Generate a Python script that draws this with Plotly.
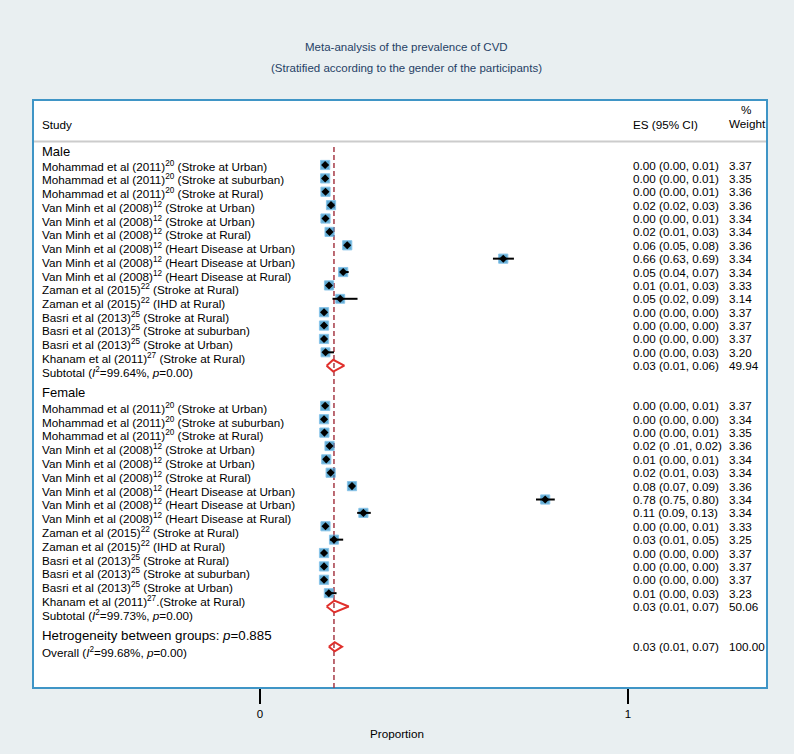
import plotly.graph_objects as go

# ---------------- data ----------------
male_labels = [
    "Mohammad et al (2011)<sup>20</sup> (Stroke at Urban)",
    "Mohammad et al (2011)<sup>20</sup> (Stroke at suburban)",
    "Mohammad et al (2011)<sup>20</sup> (Stroke at Rural)",
    "Van Minh et al (2008)<sup>12</sup> (Stroke at Urban)",
    "Van Minh et al (2008)<sup>12</sup> (Stroke at Urban)",
    "Van Minh et al (2008)<sup>12</sup> (Stroke at Rural)",
    "Van Minh et al (2008)<sup>12</sup> (Heart Disease at Urban)",
    "Van Minh et al (2008)<sup>12</sup> (Heart Disease at Urban)",
    "Van Minh et al (2008)<sup>12</sup> (Heart Disease at Rural)",
    "Zaman et al (2015)<sup>22</sup> (Stroke at Rural)",
    "Zaman et al (2015)<sup>22</sup> (IHD at Rural)",
    "Basri et al (2013)<sup>25</sup> (Stroke at Rural)",
    "Basri et al (2013)<sup>25</sup> (Stroke at suburban)",
    "Basri et al (2013)<sup>25</sup> (Stroke at Urban)",
    "Khanam et al (2011)<sup>27</sup> (Stroke at Rural)",
]
male_es = ["0.00 (0.00, 0.01)", "0.00 (0.00, 0.01)", "0.00 (0.00, 0.01)", "0.02 (0.02, 0.03)",
           "0.00 (0.00, 0.01)", "0.02 (0.01, 0.03)", "0.06 (0.05, 0.08)", "0.66 (0.63, 0.69)",
           "0.05 (0.04, 0.07)", "0.01 (0.01, 0.03)", "0.05 (0.02, 0.09)", "0.00 (0.00, 0.00)",
           "0.00 (0.00, 0.00)", "0.00 (0.00, 0.00)", "0.00 (0.00, 0.03)"]
male_weight = [3.37, 3.35, 3.36, 3.36, 3.34, 3.34, 3.36, 3.34, 3.34, 3.33, 3.14, 3.37, 3.37, 3.37, 3.20]
# marker positions / CI ends as read on the plotted Proportion axis
male_pos = [0.177, 0.177, 0.178, 0.193, 0.178, 0.189, 0.237, 0.661, 0.226, 0.1875, 0.218, 0.174, 0.174, 0.174, 0.178]
male_lo = [0.176, 0.176, 0.176, 0.190, 0.176, 0.186, 0.232, 0.633, 0.220, 0.186, 0.197, 0.174, 0.174, 0.174, 0.176]
male_hi = [0.180, 0.180, 0.181, 0.197, 0.181, 0.194, 0.243, 0.690, 0.241, 0.193, 0.265, 0.174, 0.174, 0.174, 0.201]

female_labels = [
    "Mohammad et al (2011)<sup>20</sup> (Stroke at Urban)",
    "Mohammad et al (2011)<sup>20</sup> (Stroke at suburban)",
    "Mohammad et al (2011)<sup>20</sup> (Stroke at Rural)",
    "Van Minh et al (2008)<sup>12</sup> (Stroke at Urban)",
    "Van Minh et al (2008)<sup>12</sup> (Stroke at Urban)",
    "Van Minh et al (2008)<sup>12</sup> (Stroke at Rural)",
    "Van Minh et al (2008)<sup>12</sup> (Heart Disease at Urban)",
    "Van Minh et al (2008)<sup>12</sup> (Heart Disease at Urban)",
    "Van Minh et al (2008)<sup>12</sup> (Heart Disease at Rural)",
    "Zaman et al (2015)<sup>22</sup> (Stroke at Rural)",
    "Zaman et al (2015)<sup>22</sup> (IHD at Rural)",
    "Basri et al (2013)<sup>25</sup> (Stroke at Rural)",
    "Basri et al (2013)<sup>25</sup> (Stroke at suburban)",
    "Basri et al (2013)<sup>25</sup> (Stroke at Urban)",
    "Khanam et al (2011)<sup>27</sup>.(Stroke at Rural)",
]
female_es = ["0.00 (0.00, 0.01)", "0.00 (0.00, 0.00)", "0.00 (0.00, 0.01)", "0.02 (0 .01, 0.02)",
             "0.01 (0.00, 0.01)", "0.02 (0.01, 0.03)", "0.08 (0.07, 0.09)", "0.78 (0.75, 0.80)",
             "0.11 (0.09, 0.13)", "0.00 (0.00, 0.01)", "0.03 (0.01, 0.05)", "0.00 (0.00, 0.00)",
             "0.00 (0.00, 0.00)", "0.00 (0.00, 0.00)", "0.01 (0.00, 0.03)"]
female_weight = [3.37, 3.34, 3.35, 3.36, 3.34, 3.34, 3.36, 3.34, 3.34, 3.33, 3.25, 3.37, 3.37, 3.37, 3.23]
female_pos = [0.177, 0.174, 0.175, 0.189, 0.180, 0.192, 0.250, 0.775, 0.281, 0.178, 0.201, 0.174, 0.174, 0.174, 0.187]
female_lo = [0.176, 0.174, 0.174, 0.187, 0.178, 0.189, 0.246, 0.750, 0.264, 0.177, 0.190, 0.174, 0.174, 0.174, 0.178]
female_hi = [0.180, 0.174, 0.177, 0.191, 0.182, 0.195, 0.254, 0.801, 0.301, 0.180, 0.226, 0.174, 0.174, 0.174, 0.208]

subtotal_labels = ["Subtotal (<i>I</i><sup>2</sup>=99.64%, <i>p</i>=0.00)",
                   "Subtotal (<i>I</i><sup>2</sup>=99.73%, <i>p</i>=0.00)"]
subtotal_es = ["0.03 (0.01, 0.06)", "0.03 (0.01, 0.07)"]
subtotal_weight = ["49.94", "50.06"]
subtotal_lo = [0.181, 0.181]
subtotal_mid = [0.199, 0.202]
subtotal_hi = [0.229, 0.241]

overall_label = "Overall (<i>I</i><sup>2</sup>=99.68%, <i>p</i>=0.00)"
overall_es = "0.03 (0.01, 0.07)"
overall_weight = "100.00"
overall_lo, overall_mid, overall_hi = 0.187, 0.203, 0.223
overall_line = 0.201

group_names = ["Male", "Female"]
het_label = "Hetrogeneity between groups: <i>p</i>=0.885"
tick_vals = [0, 1]
tick_text = ["0", "1"]

# ---------------- layout helpers ----------------
W, H = 794, 754
ROW0, ROWH = 165.0, 13.38
PLOT_BOTTOM = 688
X0PX, UNIT = 260.0, 368.0
FONT = "Liberation Sans, Arial, sans-serif"
FS = 11.7
BG = "#e9eff1"
BOX = "#3f95c6"
SQ = "#1e87c0"
RED = "#e0302c"

def py(px):
    return (H - px) / H

def px_row(px):
    return (px - ROW0) / ROWH

fig = go.Figure()

rows_m = list(range(0, 15))
rows_f = list(range(18, 33))
sub_rows = [15, 33]
overall_row = 36

all_pos = male_pos + female_pos
all_lo = male_lo + female_lo
all_hi = male_hi + female_hi
all_w = male_weight + female_weight
all_rows = rows_m + rows_f

# weight boxes
fig.add_trace(go.Scatter(
    x=all_pos, y=all_rows, mode="markers",
    marker=dict(symbol="square", size=[9.2 * (w / 3.37) ** 0.5 for w in all_w],
                color=SQ, line=dict(color="#58ace0", width=1)),
    hoverinfo="skip", showlegend=False))
# confidence intervals
cx, cy = [], []
for lo, hi, r in zip(all_lo, all_hi, all_rows):
    cx += [lo, hi, None]
    cy += [r, r, None]
fig.add_trace(go.Scatter(x=cx, y=cy, mode="lines", line=dict(color="black", width=2),
                         hoverinfo="skip", showlegend=False))
# point estimates
fig.add_trace(go.Scatter(
    x=all_pos, y=all_rows, mode="markers",
    marker=dict(symbol="diamond", size=6.2, color="black"),
    hoverinfo="skip", showlegend=False))

# pooled diamonds
def diamond(lo, mid, hi, r, h):
    fig.add_trace(go.Scatter(x=[lo, mid, hi, mid, lo], y=[r, r - h, r, r + h, r],
                             mode="lines", line=dict(color=RED, width=2),
                             hoverinfo="skip", showlegend=False))

for lo, mid, hi, r in zip(subtotal_lo, subtotal_mid, subtotal_hi, sub_rows):
    diamond(lo, mid, hi, r, 0.44)
diamond(overall_lo, overall_mid, overall_hi, overall_row, 0.34)

ann = []
def txt(x, y, s, size=FS, anchor="left", yref="y", color="black"):
    ann.append(dict(x=x, y=y, xref="paper", yref=yref, text=s, showarrow=False,
                    xanchor=anchor, yanchor="middle",
                    font=dict(family=FONT, size=size, color=color)))

LX = 40 / W
ESX = 631 / W
WX = 727 / W

# headers
txt(LX, py(125), "Study", yref="paper")
txt(ESX, py(125), "ES (95% CI)", yref="paper")
txt(746 / W, py(109), "%", anchor="center", yref="paper")
txt(WX, py(124), "Weight", yref="paper")

# left column (text lines are slightly more spaced than the marker rows)
text_start = [px_row(165.7), px_row(407.7)]
text_step = [13.73 / ROWH, 13.8 / ROWH]
header_rows = [-1, 17]
for g, (labels, es, wts, rows) in enumerate([(male_labels, male_es, male_weight, rows_m),
                                              (female_labels, female_es, female_weight, rows_f)]):
    txt(LX, header_rows[g], group_names[g], size=13)
    for k, lab in enumerate(labels):
        txt(LX, text_start[g] + k * text_step[g], lab)
    txt(LX, text_start[g] + 15 * text_step[g], subtotal_labels[g])
    for e, w, r in zip(es, wts, rows):
        txt(ESX, r, e)
        txt(WX, r, f"{w:.2f}")
    txt(ESX, sub_rows[g], subtotal_es[g])
    txt(WX, sub_rows[g], subtotal_weight[g])

txt(LX, px_row(635.7), het_label, size=13.3)
txt(LX, px_row(651.5), overall_label)
txt(ESX, overall_row, overall_es)
txt(WX, overall_row, overall_weight)

# title
TITLE_C = "#263f66"
for s, ypx in [("Meta-analysis of the prevalence of CVD", 47),
               ("(Stratified according to the gender of the participants)", 68)]:
    ann.append(dict(x=407 / W, y=py(ypx), xref="paper", yref="paper", showarrow=False,
                    text=s, xanchor="center", yanchor="middle",
                    font=dict(family=FONT, size=11.5, color=TITLE_C)))

shapes = [
    dict(type="rect", xref="paper", yref="paper", x0=33 / W, x1=767 / W,
         y0=py(PLOT_BOTTOM), y1=py(100), fillcolor="white",
         line=dict(color=BOX, width=2), layer="below"),
    dict(type="line", xref="paper", yref="paper", x0=34 / W, x1=766 / W,
         y0=py(141.5), y1=py(141.5), line=dict(color="#cccccc", width=2), layer="below"),
    dict(type="line", xref="x", yref="paper", x0=overall_line, x1=overall_line,
         y0=py(PLOT_BOTTOM), y1=py(145), line=dict(color="#a63a46", width=1.5, dash="5px,3px"),
         layer="below"),
]

top_row = -ROW0 / ROWH
bot_row = (PLOT_BOTTOM - ROW0) / ROWH
fig.update_layout(
    width=W, height=H, margin=dict(l=0, r=0, t=0, b=0),
    paper_bgcolor=BG, plot_bgcolor=BG,
    annotations=ann, shapes=shapes, showlegend=False,
    xaxis=dict(domain=[0, 1], range=[-X0PX / UNIT, (W - X0PX) / UNIT],
               tickvals=tick_vals, ticktext=tick_text, ticks="outside", ticklen=15,
               tickwidth=1.5, tickcolor="black", showgrid=False, zeroline=False, showline=False,
               tickfont=dict(family=FONT, size=11.5, color="black"),
               title=dict(text="Proportion", font=dict(family=FONT, size=11.7, color="black"),
                          standoff=11)),
    yaxis=dict(domain=[py(PLOT_BOTTOM), 1], range=[bot_row, top_row], visible=False),
)

fig.write_html("out.html", config={"displayModeBar": False},
               post_script="document.body.style.margin='0px';document.body.style.overflow='hidden';")
